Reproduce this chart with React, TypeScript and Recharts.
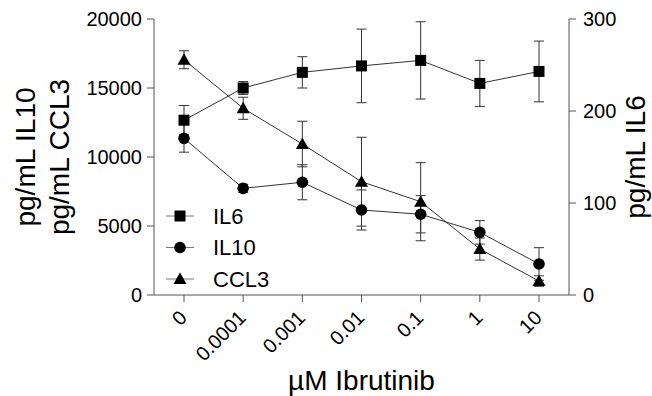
import React from 'react';
import { LineChart, Line, XAxis, YAxis, ErrorBar, Legend, Label } from 'recharts';

// µM ibrutinib doses (categorical x axis)
const doses = ['0', '0.0001', '0.001', '0.01', '0.1', '1', '10'];

// IL6, right axis (pg/mL)
const il6 = [190, 225, 242, 249, 255, 230, 243];
const il6Err = [16, 7, 17, 40, 42, 25, 33];

// IL10, left axis (pg/mL)
const il10 = [11350, 7730, 8170, 6160, 5850, 4540, 2250];
const il10Err = [1000, 300, 1270, 1450, 1350, 850, 1180];

// CCL3, left axis (pg/mL)
const ccl3 = [17050, 13530, 10940, 8210, 6760, 3330, 1010];
const ccl3Err = [650, 800, 1650, 3220, 2830, 800, 380];

const leftTicks = [0, 5000, 10000, 15000, 20000];
const rightTicks = [0, 100, 200, 300];

const data = doses.map((dose, i) => ({
  dose,
  il6: il6[i],
  il6Err: il6Err[i],
  il10: il10[i],
  il10Err: il10Err[i],
  ccl3: ccl3[i],
  ccl3Err: ccl3Err[i],
}));

const INK = '#000';
const LINE = '#333';
const AXIS = '#555';

type Shape = 'square' | 'circle' | 'triangle';

function marker(shape: Shape, cx: number, cy: number, key?: string) {
  if (shape === 'square') {
    return <rect key={key} x={cx - 5.5} y={cy - 5.5} width={11} height={11} fill={INK} />;
  }
  if (shape === 'circle') {
    return <circle key={key} cx={cx} cy={cy} r={5.8} fill={INK} />;
  }
  return (
    <polygon
      key={key}
      points={`${cx},${cy - 6.5} ${cx - 6.5},${cy + 5} ${cx + 6.5},${cy + 5}`}
      fill={INK}
    />
  );
}

const dotOf = (shape: Shape) => (p: any) => {
  if (p.cx == null || p.cy == null) return <g key={`${shape}-${p.index}`} />;
  return marker(shape, p.cx, p.cy, `${shape}-${p.index}`);
};

const series: { key: string; name: string; shape: Shape }[] = [
  { key: 'il6', name: 'IL6', shape: 'square' },
  { key: 'il10', name: 'IL10', shape: 'circle' },
  { key: 'ccl3', name: 'CCL3', shape: 'triangle' },
];

const DoseTick = (props: any) => {
  const { x, y, payload } = props;
  const ax = x + 4;
  const ay = y + 15;
  return (
    <text
      x={ax}
      y={ay}
      transform={`rotate(-45, ${ax}, ${ay})`}
      textAnchor="end"
      fontSize={20}
      fill={INK}
    >
      {payload.value}
    </text>
  );
};

const LeftTitle = (props: any) => {
  const vb = props.viewBox;
  const cy = vb.y + vb.height / 2;
  return (
    <g fontSize={28} fill={INK}>
      <text transform={`translate(35, ${cy}) rotate(-90)`} textAnchor="middle">
        pg/mL IL10
      </text>
      <text transform={`translate(69, ${cy}) rotate(-90)`} textAnchor="middle">
        pg/mL CCL3
      </text>
    </g>
  );
};

const RightTitle = (props: any) => {
  const vb = props.viewBox;
  const cy = vb.y + vb.height / 2;
  return (
    <text
      transform={`translate(${vb.x + 76}, ${cy}) rotate(-90)`}
      textAnchor="middle"
      fontSize={28}
      fill={INK}
    >
      pg/mL IL6
    </text>
  );
};

const BottomTitle = (props: any) => {
  const vb = props.viewBox;
  return (
    <text x={vb.x + vb.width / 2} y={vb.y + 95} textAnchor="middle" fontSize={28} fill={INK}>
      µM Ibrutinib
    </text>
  );
};

const renderLegend = () => (
  <svg width={130} height={100}>
    {series.map((s, i) => {
      const cy = 16 + i * 31.5;
      return (
        <g key={s.key}>
          <line x1={6} x2={34} y1={cy} y2={cy} stroke="#777" strokeWidth={1} />
          {marker(s.shape, 20, cy)}
          <text x={53} y={cy} dy="0.36em" fontSize={22} fill={INK}>
            {s.name}
          </text>
        </g>
      );
    })}
  </svg>
);

export default function App() {
  return (
    <div
      style={{
        position: 'absolute',
        left: 0,
        top: 0,
        width: 652,
        height: 396,
        background: '#fff',
        fontFamily: '"Liberation Sans", Arial, sans-serif',
      }}
    >
      <LineChart width={652} height={396} data={data} margin={{ top: 19, right: 0, bottom: 0, left: 0 }}>
        <XAxis
          dataKey="dose"
          height={101}
          interval={0}
          padding={{ left: 30, right: 30 }}
          stroke={AXIS}
          tickSize={7}
          tick={<DoseTick />}
        >
          <Label content={<BottomTitle />} />
        </XAxis>
        <YAxis
          yAxisId="left"
          width={154}
          domain={[0, 20000]}
          ticks={leftTicks}
          stroke={AXIS}
          tickSize={7}
          tickMargin={5}
          tick={{ fill: INK, fontSize: 20 }}
        >
          <Label content={<LeftTitle />} />
        </YAxis>
        <YAxis
          yAxisId="right"
          orientation="right"
          width={83}
          domain={[0, 300]}
          ticks={rightTicks}
          stroke={AXIS}
          tickSize={7}
          tickMargin={7}
          tick={{ fill: INK, fontSize: 20 }}
        >
          <Label content={<RightTitle />} />
        </YAxis>
        <Legend
          layout="vertical"
          align="center"
          verticalAlign="middle"
          wrapperStyle={{ left: 160, top: 200, width: 130 }}
          content={renderLegend}
        />
        <Line
          yAxisId="right"
          dataKey="il6"
          name="IL6"
          stroke={LINE}
          strokeWidth={1}
          dot={dotOf('square')}
          activeDot={false}
          isAnimationActive={false}
        >
          <ErrorBar dataKey="il6Err" width={5} stroke={LINE} strokeWidth={1} direction="y" />
        </Line>
        <Line
          yAxisId="left"
          dataKey="il10"
          name="IL10"
          stroke={LINE}
          strokeWidth={1}
          dot={dotOf('circle')}
          activeDot={false}
          isAnimationActive={false}
        >
          <ErrorBar dataKey="il10Err" width={5} stroke={LINE} strokeWidth={1} direction="y" />
        </Line>
        <Line
          yAxisId="left"
          dataKey="ccl3"
          name="CCL3"
          stroke={LINE}
          strokeWidth={1}
          dot={dotOf('triangle')}
          activeDot={false}
          isAnimationActive={false}
        >
          <ErrorBar dataKey="ccl3Err" width={5} stroke={LINE} strokeWidth={1} direction="y" />
        </Line>
      </LineChart>
    </div>
  );
}
